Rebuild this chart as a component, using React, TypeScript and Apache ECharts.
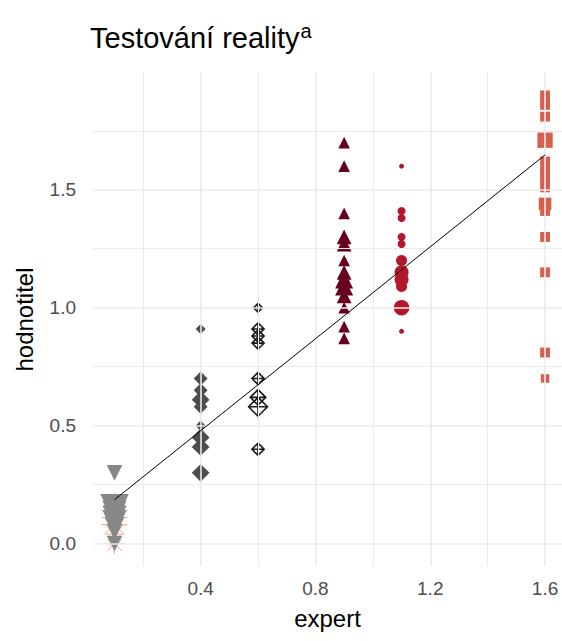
import React, { useEffect, useRef } from "react";
import * as echarts from "echarts";

// ---- data (y value, weight) per expert level ----
const xTicks = [0.4, 0.8, 1.2, 1.6];
const yTicks = [0.0, 0.5, 1.0, 1.5];
const xMinor = [0.2, 0.6, 1.0, 1.4];
const yMinor = [0.25, 0.75, 1.25, 1.75];

const x01 = 0.1;
const g01Asterisk: number[][] = [[0.17, 3], [0.14, 4], [0.11, 4], [0.08, 4], [0.04, 3], [0.0, 3]];
const g01Tri: number[][] = [[0.3, 3], [0.15, 6], [0.13, 5], [0.11, 5], [0.09, 5], [0.07, 4], [0.05, 3], [0.0, 3]];

const x04 = 0.4;
const g04: number[][] = [[0.91, 2], [0.7, 3], [0.65, 3], [0.61, 4], [0.58, 3], [0.5, 2], [0.45, 4], [0.41, 4], [0.3, 4]];

const x06 = 0.6;
const g06: number[][] = [[1.0, 2], [0.91, 3], [0.88, 3], [0.85, 3], [0.7, 3], [0.62, 4], [0.58, 5], [0.4, 3]];

const x09 = 0.9;
const g09: number[][] = [[1.7, 3], [1.6, 3], [1.4, 3], [1.3, 4], [1.27, 4], [1.2, 3], [1.15, 4], [1.12, 5], [1.09, 5], [1.05, 4], [1.0, 3], [0.92, 3], [0.87, 3]];

const x11 = 1.1;
const g11: number[][] = [[1.6, 1], [1.41, 2], [1.38, 2], [1.3, 2], [1.27, 2], [1.2, 3], [1.15, 4], [1.12, 4], [1.09, 3], [1.0, 4.5], [0.9, 1]];

const x16 = 1.6;
const g16: number[][] = [[1.9, 3], [1.86, 3], [1.81, 3], [1.71, 5], [1.62, 3], [1.58, 3], [1.55, 3], [1.51, 3], [1.44, 4], [1.41, 3], [1.3, 3], [1.15, 3], [0.81, 3], [0.7, 2.5]];

const fitLine: number[][] = [[0.1, 0.186], [1.6, 1.648]];

const sizeOf = (w: number) => 2 + 3.2 * w;

const SYM_DOWN = "path://M0,0L10,0L5,9Z";
const SYM_AST = "path://M5,0L5,10M0,5L10,5M1.5,1.5L8.5,8.5M1.5,8.5L8.5,1.5";
const SYM_DPLUS = "path://M5,0L10,5L5,10L0,5ZM5,0L5,10M0,5L10,5";

function pts(x: number, arr: number[][]) {
  return arr.map(([y, w]) => [x, y, w]);
}

const FONT = "Liberation Sans, Arial, sans-serif";

export default function App() {
  const ref = useRef<HTMLDivElement>(null);
  useEffect(() => {
    if (!ref.current) return;
    const chart = echarts.init(ref.current, null, { renderer: "svg" });
    const gridColor = "#EBEBEB";
    const sc = (name: string, x: number, arr: number[][], symbol: string, itemStyle: any, k = 1, z = 2) => ({
      name,
      type: "scatter",
      data: pts(x, arr),
      symbol,
      symbolSize: (v: number[]) => sizeOf(v[2]) * k,
      itemStyle: { opacity: 1, ...itemStyle },
      z,
      silent: true,
    });
    chart.setOption({
      animation: false,
      backgroundColor: "#ffffff",
      title: {
        text: "{t|Testování reality}{s|a}",
        left: 85,
        top: 16,
        textStyle: {
          fontWeight: "normal",
          rich: {
            t: { fontFamily: FONT, fontSize: 29, color: "#000000", fontWeight: "normal" },
            s: { fontFamily: FONT, fontSize: 20, color: "#000000", fontWeight: "normal", verticalAlign: "top", padding: [0, 0, 14, 1] },
          },
        },
      },
      grid: { left: 93, right: 0, top: 73, height: 493, containLabel: false },
      xAxis: {
        type: "value",
        min: 0.025,
        max: 1.659,
        axisLine: { show: false },
        axisTick: { show: false },
        splitLine: { show: false },
        axisLabel: {
          customValues: xTicks,
          formatter: (v: number) => v.toFixed(1),
          color: "#4D4D4D",
          fontSize: 19,
          fontFamily: FONT,
          margin: 13,
        },
        name: "expert",
        nameLocation: "middle",
        nameGap: 40,
        nameTextStyle: { color: "#000000", fontSize: 24, fontFamily: FONT },
      },
      yAxis: {
        type: "value",
        min: -0.095,
        max: 1.995,
        axisLine: { show: false },
        axisTick: { show: false },
        splitLine: { show: false },
        axisLabel: {
          customValues: yTicks,
          formatter: (v: number) => v.toFixed(1),
          color: "#4D4D4D",
          fontSize: 19,
          fontFamily: FONT,
          margin: 17,
        },
        name: "hodnotitel",
        nameLocation: "middle",
        nameGap: 57,
        nameTextStyle: { color: "#000000", fontSize: 24, fontFamily: FONT },
      },
      series: [
        {
          name: "grid",
          type: "line",
          data: [[0.025, -0.095]],
          symbol: "none",
          lineStyle: { opacity: 0 },
          silent: true,
          z: 0,
          markLine: {
            silent: true,
            symbol: "none",
            label: { show: false },
            animation: false,
            data: [
              ...xMinor.map((v) => ({ xAxis: v, lineStyle: { color: gridColor, width: 1, type: "solid" } })),
              ...xTicks.map((v) => ({ xAxis: v, lineStyle: { color: gridColor, width: 1.6, type: "solid" } })),
              ...yMinor.map((v) => ({ yAxis: v, lineStyle: { color: gridColor, width: 1, type: "solid" } })),
              ...yTicks.map((v) => ({ yAxis: v, lineStyle: { color: gridColor, width: 1.6, type: "solid" } })),
            ],
          },
        },
        sc("0.1 ast", x01, g01Asterisk, SYM_AST, { color: "none", borderColor: "#F4A582", borderWidth: 1 }, 1.75),
        sc("0.1", x01, g01Tri, SYM_DOWN, { color: "#878787" }, 1.35),
        sc("0.4", x04, g04, "diamond", { color: "#4D4D4D" }, 1.2),
        sc("0.6", x06, g06, SYM_DPLUS, { color: "none", borderColor: "#1A1A1A", borderWidth: 1.6 }, 1.05),
        sc("0.9", x09, g09, "triangle", { color: "#67001F" }, 1.0),
        sc("1.1", x11, g11, "circle", { color: "#B2182B" }, 0.95),
        sc("1.6", x16, g16, "rect", { color: "#D6604D" }, 0.85),
        {
          name: "fit",
          type: "line",
          data: fitLine,
          symbol: "none",
          lineStyle: { color: "#000000", width: 1 },
          z: 5,
          silent: true,
        },
      ],
    });
    return () => chart.dispose();
  }, []);
  return <div ref={ref} style={{ position: "fixed", left: 0, top: 0, width: 562, height: 641 }} />;
}
